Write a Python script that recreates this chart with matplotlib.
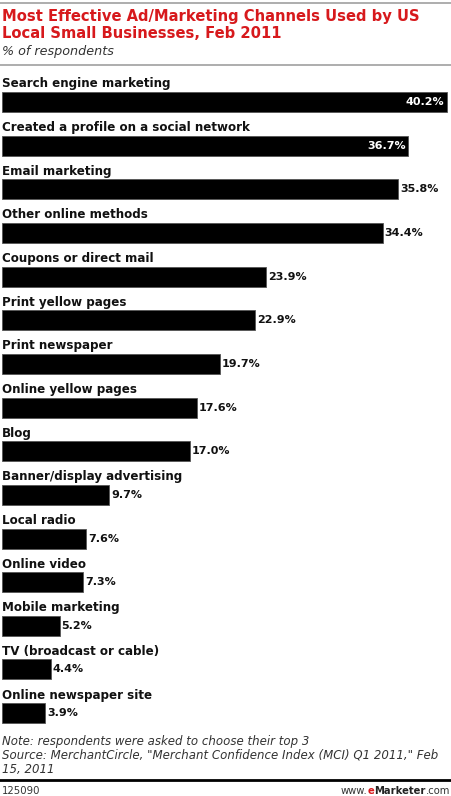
import matplotlib
matplotlib.use("Agg")
import matplotlib.pyplot as plt
from matplotlib.lines import Line2D

categories = [
    "Search engine marketing",
    "Created a profile on a social network",
    "Email marketing",
    "Other online methods",
    "Coupons or direct mail",
    "Print yellow pages",
    "Print newspaper",
    "Online yellow pages",
    "Blog",
    "Banner/display advertising",
    "Local radio",
    "Online video",
    "Mobile marketing",
    "TV (broadcast or cable)",
    "Online newspaper site",
]
values = [40.2, 36.7, 35.8, 34.4, 23.9, 22.9, 19.7, 17.6, 17.0, 9.7, 7.6, 7.3, 5.2, 4.4, 3.9]
value_labels = [f"{v:.1f}%" for v in values]
inside_count = 2

W, H = 452, 796
fig = plt.figure(figsize=(W / 100, H / 100), dpi=100)
fig.patch.set_facecolor("white")

def fx(px):
    return px / W

def fy(py):
    return 1 - py / H

red = "#d7191c"

# top rule
fig.add_artist(Line2D([fx(0), fx(452)], [fy(3), fy(3)], color="#a0a0a0", lw=1.2))
fig.text(fx(2), fy(21.5), "Most Effective Ad/Marketing Channels Used by US", color=red,
         fontsize=10.6, fontweight="bold", va="baseline", ha="left")
fig.text(fx(2), fy(38), "Local Small Businesses, Feb 2011", color=red,
         fontsize=10.6, fontweight="bold", va="baseline", ha="left")
fig.text(fx(2), fy(55), "% of respondents", color="#333333", fontsize=9.2,
         fontstyle="italic", va="baseline", ha="left")
fig.add_artist(Line2D([fx(0), fx(452)], [fy(64.5), fy(64.5)], color="#a0a0a0", lw=1.2))

# bars axes
spacing = 43.65
first_center = 102
n = len(categories)
top_px = first_center - 0.5 * spacing
bot_px = first_center + (n - 0.5) * spacing
ax = fig.add_axes([fx(2), fy(bot_px), fx(448), (bot_px - top_px) / H])
ax.set_xlim(0, 40.5)
ax.set_ylim(n - 0.5, -0.5)
ax.axis("off")

ys = list(range(n))
bh = 20 / spacing
ax.barh(ys, values, height=bh, color="black", edgecolor="#555555", linewidth=0.6)

for i, (cat, v, lab) in enumerate(zip(categories, values, value_labels)):
    ax.text(0, i - bh / 2 - 4.5 / spacing, cat, fontsize=8.6, fontweight="bold",
            va="baseline", ha="left", color="#111111")
    if i < inside_count:
        ax.annotate(lab, (v, i), xytext=(-1.5, 0), textcoords="offset points",
                    ha="right", va="center", fontsize=8.0, fontweight="bold", color="white")
    else:
        ax.annotate(lab, (v, i), xytext=(1.5, 0), textcoords="offset points",
                    ha="left", va="center", fontsize=8.0, fontweight="bold", color="#111111")

# footer
foot_fs = 8.5
fig.text(fx(2), fy(745.5), "Note: respondents were asked to choose their top 3", color="#333333",
         fontsize=foot_fs, fontstyle="italic", va="baseline", ha="left")
fig.text(fx(2), fy(759), "Source: MerchantCircle, \"Merchant Confidence Index (MCI) Q1 2011,\" Feb",
         color="#333333", fontsize=foot_fs, fontstyle="italic", va="baseline", ha="left")
fig.text(fx(2), fy(773), "15, 2011", color="#333333", fontsize=foot_fs, fontstyle="italic",
         va="baseline", ha="left")
fig.add_artist(Line2D([fx(0), fx(452)], [fy(780), fy(780)], color="black", lw=2.0))
fig.text(fx(2), fy(794), "125090", color="#333333", fontsize=7.3, va="baseline", ha="left")
fs_w = 7.2
t1 = fig.text(fx(450), fy(794), ".com", color="#333333", fontsize=fs_w, va="baseline", ha="right")
fig.canvas.draw()
r = fig.canvas.get_renderer()
bb = t1.get_window_extent(r)
t2 = fig.text(bb.x0 / W, fy(794), "Marketer", color="#222222", fontsize=fs_w, fontweight="bold",
              va="baseline", ha="right")
bb2 = t2.get_window_extent(r)
t3 = fig.text(bb2.x0 / W, fy(794), "e", color=red, fontsize=fs_w, fontweight="bold",
              va="baseline", ha="right")
bb3 = t3.get_window_extent(r)
fig.text(bb3.x0 / W, fy(794), "www.", color="#333333", fontsize=fs_w, va="baseline", ha="right")

fig.savefig("out.png", dpi=100, facecolor="white")
